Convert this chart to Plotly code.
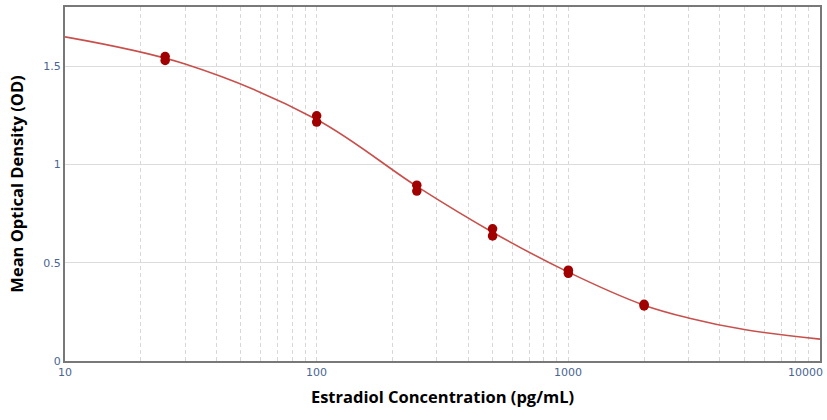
import math
import plotly.graph_objects as go

# Standards (replicate wells)
conc = [25, 25, 100, 100, 250, 250, 500, 500, 1000, 1000, 2000, 2000]
od = [1.548, 1.528, 1.247, 1.215, 0.894, 0.864, 0.672, 0.636, 0.462, 0.446, 0.288, 0.280]

# Fitted standard curve
curve_x = [10, 30, 100, 250, 500, 1000, 2000, 3000, 5000, 10000]
curve_y = [1.648, 1.510, 1.228, 0.888, 0.655, 0.452, 0.284, 0.219, 0.160, 0.111]

x_tick_vals = [10, 100, 1000, 10000]
x_tick_text = ["10", "100", "1000", "10000"]
y_tick_vals = [0, 0.5, 1, 1.5]
y_tick_text = ["0", "0.5", "1", "1.5"]

grid_x = [m * 10 ** e for e in range(1, 4) for m in range(1, 10)] + [10000]

fig = go.Figure()
fig.add_trace(go.Scatter(x=curve_x, y=curve_y, mode="lines",
                         line=dict(color="#c8504c", width=1.6, shape="spline", smoothing=1.0),
                         hoverinfo="skip", showlegend=False))
fig.add_trace(go.Scatter(x=conc, y=od, mode="markers", marker=dict(color="#a00000", size=9.5),
                         showlegend=False))

tick_font = dict(family="DejaVu Sans", size=11, color="#4a6592")
for v, t in zip(x_tick_vals, x_tick_text):
    last = v == x_tick_vals[-1]
    fig.add_annotation(x=math.log10(v), y=0, xref="x", yref="paper", text=t, showarrow=False,
                       xanchor="right" if last else "center", xshift=5 if last else 0,
                       yanchor="top", yshift=-3, font=tick_font)

title_font = dict(family="Open Sans", size=16.5, color="black", weight="bold")
fig.update_layout(
    width=827, height=420,
    margin=dict(l=65, r=6, t=5, b=59),
    paper_bgcolor="white", plot_bgcolor="white",
    font=dict(family="Open Sans"),
)
fig.update_xaxes(type="log", range=[1, 4], tickvals=grid_x, showticklabels=False,
                 showgrid=True, gridcolor="#d8d8d8", griddash="4px,3px", gridwidth=1,
                 showline=True, linecolor="#787878", linewidth=2, mirror=True, zeroline=False,
                 title=dict(text="Estradiol Concentration (pg/mL)", standoff=29, font=title_font))
fig.update_yaxes(range=[0, 1.8], tickvals=y_tick_vals, ticktext=y_tick_text, tickfont=tick_font,
                 showgrid=True, gridcolor="#dcdcdc", gridwidth=1,
                 showline=True, linecolor="#787878", linewidth=2, mirror=True, zeroline=False,
                 title=dict(text="Mean Optical Density (OD)", standoff=16, font=title_font))

fig.write_html("out.html", post_script="document.body.style.margin='0';",
               config={"displayModeBar": False})
